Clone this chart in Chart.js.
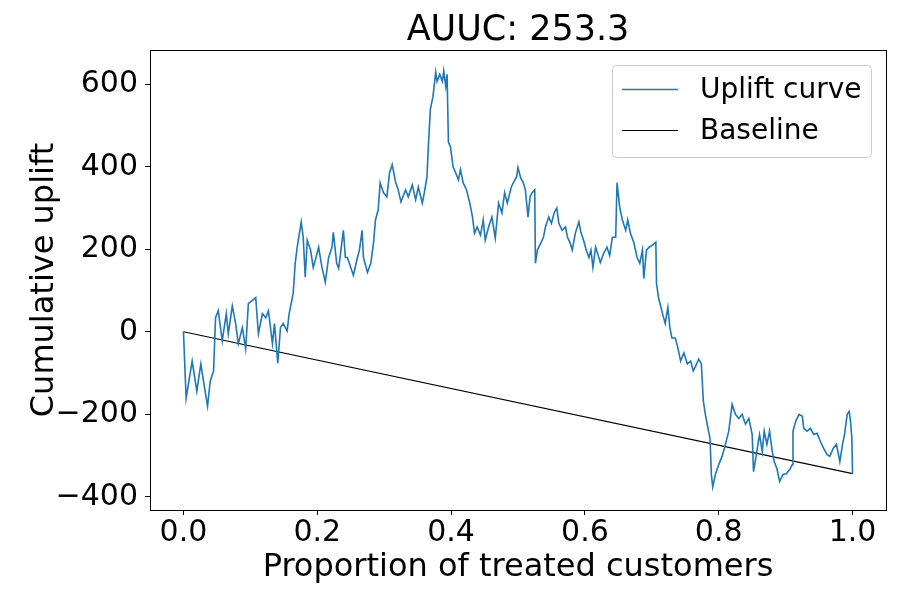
<!DOCTYPE html>
<html>
<head>
<meta charset="utf-8">
<script src="https://cdn.jsdelivr.net/npm/chart.js@4.4.1/dist/chart.umd.min.js"></script>
<style>
  html, body { margin: 0; padding: 0; background: #fff; }
</style>
</head>
<body>
<canvas id="uplift" width="900" height="600"></canvas>
<script>
// values
const proportionTreated = [
  0, .004, .013, .020, .026, .030, .036, .040, .045, .048,
  .052, .058, .064, .067, .073, .078, .082, .088, .093, .097,
  .103, .108, .112, .118, .123, .127, .133, .136, .141, .145,
  .149, .155, .158, .164, .167, .170, .176, .179, .182, .185,
  .190, .194, .197, .202, .207, .212, .217, .222, .224, .229,
  .232, .239, .242, .245, .250, .254, .260, .263, .267, .269,
  .275, .280, .284, .287, .291, .294, .299, .304, .308, .312,
  .317, .321, .325, .332, .336, .342, .347, .351, .357, .360,
  .364, .366, .369, .373, .377, .379, .383, .387, .389, .392,
  .394, .396, .399, .403, .407, .411, .414, .418, .423, .428,
  .432, .435, .439, .444, .448, .451, .456, .461, .466, .471,
  .476, .480, .484, .490, .493, .498, .500, .504, .508, .511,
  .515, .518, .521, .525, .526, .529, .534, .538, .541, .546,
  .550, .554, .558, .561, .566, .571, .574, .578, .581, .586,
  .591, .594, .598, .602, .606, .609, .612, .616, .619, .623,
  .628, .633, .637, .641, .646, .648, .652, .656, .661, .664,
  .668, .673, .678, .682, .686, .688, .692, .696, .701, .706,
  .707, .710, .716, .720, .724, .727, .730, .735, .739, .743,
  .748, .753, .758, .762, .767, .770, .774, .777, .780, .784,
  .787, .789, .791, .795, .800, .805, .810, .815, .820, .825,
  .830, .835, .840, .845, .850, .852, .857, .861, .865, .868,
  .872, .876, .880, .883, .887, .891, .896, .901, .906, .910,
  .911, .915, .920, .925, .927, .932, .937, .942, .947, .952,
  .957, .962, .966, .971, .976, .981, .985, .988, .992, .995,
  .997, .999, 1.0
];
const cumulativeUplift = [
  0, -161, -71, -144, -78, -120, -180, -120, -95, 34,
  51, -22, 44, -5, 63, 20, -29, 10, -41, 68,
  76, 83, -5, 44, 34, 51, -29, 20, -76, 10,
  20, 2, 44, 93, 166, 205, 266, 229, 132, 222,
  198, 156, 173, 205, 156, 120, 180, 205, 241, 166,
  154, 246, 180, 180, 156, 137, 180, 198, 246, 180,
  144, 166, 215, 271, 295, 361, 337, 327, 385, 405,
  363, 344, 315, 344, 327, 356, 320, 351, 312, 337,
  376, 449, 539, 571, 629, 607, 624, 607, 632, 595,
  624, 459, 449, 400, 385, 368, 393, 361, 344, 312,
  278, 239, 254, 234, 271, 222, 254, 278, 227, 312,
  288, 337, 312, 351, 361, 376, 398, 373, 361, 344,
  278, 327, 337, 344, 166, 198, 215, 229, 254, 278,
  263, 288, 300, 263, 246, 254, 229, 215, 198, 241,
  266, 241, 222, 198, 180, 198, 156, 205, 190, 168,
  190, 205, 185, 229, 229, 361, 302, 271, 246, 271,
  239, 217, 180, 166, 198, 129, 198, 205, 210, 217,
  117, 83, 44, 20, 59, 10, -15, -15, -39, -71,
  -51, -78, -71, -95, -78, -66, -78, -168, -200, -234,
  -259, -346, -376, -346, -322, -302, -273, -241, -176, -200,
  -210, -200, -224, -210, -249, -339, -290, -249, -290, -241,
  -273, -241, -290, -315, -332, -363, -346, -344, -334, -322,
  -241, -217, -200, -205, -234, -241, -234, -249, -246, -266,
  -283, -298, -302, -283, -273, -315, -273, -249, -200, -193,
  -217, -259, -344
];
const baselineX = [0, 1];
const baselineY = [0, -344];

const xTicks = [0, 0.2, 0.4, 0.6, 0.8, 1.0];
const yTicks = [-400, -200, 0, 200, 400, 600];
const chartTitle = 'AUUC: 253.3';

const toPoints = (xs, ys) => xs.map((x, i) => ({ x: x, y: ys[i] }));
const minus = v => v < 0 ? '\u2212' + Math.abs(v) : String(v);

Chart.defaults.font.family = "'DejaVu Sans', sans-serif";
Chart.defaults.color = '#000';

// title centred over the axes, box around the plot, legend inside it
const frameAndLegend = {
  id: 'frameAndLegend',
  afterDatasetsDraw(chart) {
    const ctx = chart.ctx;
    const a = chart.chartArea;
    ctx.save();
    ctx.strokeStyle = '#000';
    ctx.lineWidth = 1;
    ctx.strokeRect(Math.round(a.left) + 0.5, Math.round(a.top) + 0.5,
      Math.round(a.right - a.left), Math.round(a.bottom - a.top));

    ctx.fillStyle = '#000';
    ctx.font = "35px 'DejaVu Sans'";
    ctx.textAlign = 'center';
    ctx.textBaseline = 'middle';
    ctx.fillText(chartTitle, (a.left + a.right) / 2, a.top - 19);

    const w = 259, h = 92;
    const bx = a.right - 15 - w, by = a.top + 15;
    ctx.beginPath();
    ctx.roundRect(bx + 0.5, by + 0.5, w, h, 4);
    ctx.fillStyle = 'rgba(255,255,255,0.8)';
    ctx.fill();
    ctx.strokeStyle = '#cccccc';
    ctx.stroke();

    ctx.font = "28px 'DejaVu Sans'";
    ctx.textAlign = 'left';
    chart.data.datasets.forEach((ds, i) => {
      const ry = by + 24 + i * 41;
      ctx.beginPath();
      ctx.strokeStyle = ds.borderColor;
      ctx.lineWidth = ds.borderWidth;
      ctx.moveTo(bx + 10, ry + 0.5);
      ctx.lineTo(bx + 66, ry + 0.5);
      ctx.stroke();
      ctx.fillStyle = '#000';
      ctx.fillText(ds.label, bx + 88, ry + 2);
    });
    ctx.restore();
  }
};

new Chart(document.getElementById('uplift'), {
  type: 'line',
  data: {
    datasets: [{
      label: 'Uplift curve',
      data: toPoints(proportionTreated, cumulativeUplift),
      borderColor: '#1f77b4',
      borderWidth: 1.6,
      pointRadius: 0,
      tension: 0
    }, {
      label: 'Baseline',
      data: toPoints(baselineX, baselineY),
      borderColor: '#000000',
      borderWidth: 1.2,
      pointRadius: 0,
      tension: 0
    }]
  },
  options: {
    responsive: false,
    animation: false,
    devicePixelRatio: 1,
    layout: { padding: { top: 50, right: 14 } },
    plugins: {
      legend: { display: false },
      tooltip: { enabled: false },
      title: { display: false }
    },
    scales: {
      x: {
        type: 'linear',
        min: -0.05,
        max: 1.05,
        afterFit: s => { s.height = 90; },
        afterBuildTicks: s => { s.ticks = xTicks.map(v => ({ value: v })); },
        ticks: {
          font: { size: 30 },
          padding: 0,
          maxRotation: 0,
          autoSkip: false,
          callback: v => v.toFixed(1)
        },
        grid: { drawOnChartArea: false, tickLength: 5, color: '#000', tickColor: '#000' },
        border: { display: false },
        title: {
          display: true,
          text: 'Proportion of treated customers',
          font: { size: 32 },
          padding: { bottom: 13 }
        }
      },
      y: {
        min: -432,
        max: 683,
        afterFit: s => { s.width = 150; },
        afterBuildTicks: s => { s.ticks = yTicks.map(v => ({ value: v })); },
        ticks: {
          font: { size: 30 },
          padding: 7,
          callback: v => minus(v)
        },
        grid: { drawOnChartArea: false, tickLength: 5, color: '#000', tickColor: '#000' },
        border: { display: false },
        title: {
          display: true,
          text: 'Cumulative uplift',
          font: { size: 32 },
          padding: { top: 25 }
        }
      }
    }
  },
  plugins: [frameAndLegend]
});
</script>
</body>
</html>
